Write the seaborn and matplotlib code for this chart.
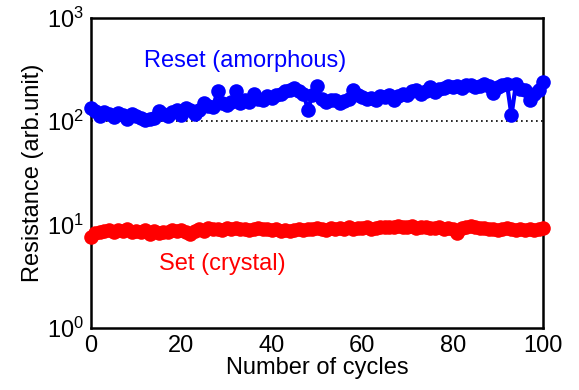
import matplotlib
matplotlib.use('Agg')
import matplotlib.pyplot as plt
import numpy as np
import seaborn as sns

# Data
cycles = list(range(0, 101))
reset_r = [134, 125, 112, 122, 118, 110, 120, 115, 105, 118,
           112, 108, 103, 106, 108, 125, 118, 112, 122, 130,
           115, 135, 128, 118, 130, 150, 142, 138, 195, 150,
           145, 155, 195, 150, 160, 155, 185, 165, 160, 175,
           168, 180, 185, 195, 200, 209, 195, 185, 130, 180,
           218, 165, 155, 160, 162, 150, 158, 165, 200, 178,
           172, 165, 168, 162, 175, 170, 180, 160, 175, 185,
           178, 195, 200, 185, 195, 215, 190, 205, 212, 220,
           215, 218, 210, 225, 222, 215, 220, 228, 218, 188,
           215, 222, 232, 114, 230, 205, 200, 162, 185, 200,
           240]
set_r = [7.6, 8.3, 8.5, 8.7, 8.8, 8.5, 8.9, 8.6, 9.1, 8.5,
         8.7, 8.4, 8.8, 8.2, 8.6, 8.3, 8.4, 8.5, 8.8, 8.6,
         8.9, 8.5, 8.2, 8.7, 9.0, 8.6, 9.2, 9.0, 9.1, 8.8,
         9.2, 9.0, 9.3, 9.0, 9.1, 8.8, 9.0, 9.2, 9.1, 9.0,
         8.8, 9.0, 8.7, 8.9, 8.6, 8.8, 9.0, 8.9, 9.1, 9.0,
         9.3, 9.1, 8.9, 9.2, 9.0, 9.3, 9.1, 9.4, 9.0, 9.2,
         9.3, 9.4, 9.1, 9.3, 9.4, 9.5, 9.4, 9.5, 9.6, 9.4,
         9.5, 9.6, 9.3, 9.5, 9.4, 9.2, 9.3, 9.5, 9.1, 9.3,
         9.0, 8.3, 9.2, 9.5, 9.6, 9.4, 9.2, 9.3, 9.0, 9.1,
         8.9, 9.0, 9.3, 9.1, 8.8, 9.0, 8.8, 9.1, 8.9, 9.0,
         9.2]
ref_level = 100
x_ticks = [0, 20, 40, 60, 80, 100]

sns.set_style('white')
plt.rcParams['font.family'] = ['Liberation Sans', 'DejaVu Sans']
plt.rcParams['text.color'] = 'black'
plt.rcParams['axes.labelcolor'] = 'black'
plt.rcParams['xtick.color'] = 'black'
plt.rcParams['ytick.color'] = 'black'

fig = plt.figure(figsize=(5.79, 3.90), dpi=100)
ax = fig.add_axes([0.157, 0.159, 0.781, 0.795])

ax.hlines(ref_level, cycles[0], cycles[-1], colors='black', linestyles=(0, (1, 2)), linewidth=1.2, zorder=1)

sns.lineplot(x=cycles, y=reset_r, ax=ax, color='#0000FF', linewidth=3, marker='o',
             markersize=10.5, markeredgewidth=0, zorder=3, clip_on=False)
sns.lineplot(x=cycles, y=set_r, ax=ax, color='#FF0000', linewidth=3, marker='o',
             markersize=10.5, markeredgewidth=0, zorder=3, clip_on=False)

ax.set_yscale('log')
ax.set_ylim(1, 1000)
ax.set_xlim(0, 100)
ax.set_xticks(x_ticks)
ax.set_xticklabels([str(t) for t in x_ticks])
ax.tick_params(axis='both', which='major', labelsize=17, direction='in', length=4, width=1.2, pad=5)
ax.tick_params(axis='y', which='minor', left=False)

for s in ax.spines.values():
    s.set_linewidth(1.8)
    s.set_color('black')

ax.set_xlabel('Number of cycles', fontsize=17, labelpad=0)
ax.set_ylabel('Resistance (arb.unit)', fontsize=17, labelpad=2)

ax.text(0.34, 0.86, 'Reset (amorphous)', transform=ax.transAxes, color='#0000FF',
        fontsize=17, ha='center', va='center')
ax.text(0.29, 0.205, 'Set (crystal)', transform=ax.transAxes, color='#FF0000',
        fontsize=17, ha='center', va='center')

fig.savefig('out.png', dpi=100)
